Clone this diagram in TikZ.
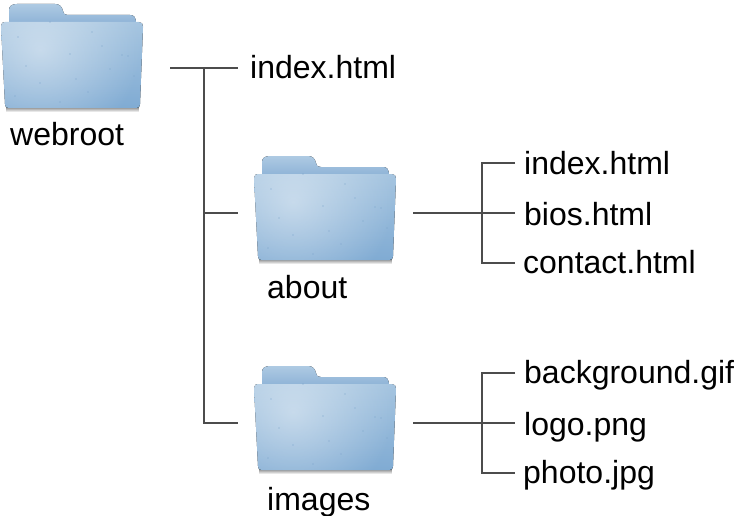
\documentclass[tikz,border=0pt]{standalone}
\usepackage{fontspec}
\setmainfont{Liberation Sans}
\usetikzlibrary{fadings}
\tikzfading[name=softglow,inner color=transparent!55,outer color=transparent!100]
\tikzset{
  x=1pt,y=-1pt,
  lbl/.style={inner sep=0pt,anchor=base west,font=\fontsize{32}{36}\selectfont,text=black},
  conn/.style={draw=black!70,line width=1.1pt},
}
\definecolor{tabc}{HTML}{AECAE3}
\definecolor{backc}{HTML}{8DB2D6}
\definecolor{ftop}{HTML}{A6C5E0}
\definecolor{fbot}{HTML}{80ABD3}
\definecolor{speck}{HTML}{7AA3CB}
\tikzset{
  pics/myfolder/.style={code={
    \fill[black!65,path fading=south] (6,105) -- (139,105) -- (139,112) -- (6,112) -- cycle;
    \fill[top color=tabc,bottom color=backc] (9,24) -- (9,10) .. controls (9,6) and (12,4) .. (17,4)
      -- (55,4) .. controls (60,4) and (62,7) .. (63,11) .. controls (63,14) and (65,15) .. (68,15)
      -- (130,15) .. controls (134,15) and (136,17) .. (136,24) -- cycle;
    \begin{scope}
    \clip (1,26) .. controls (1,23) and (3,22) .. (5,22) -- (139,22) .. controls (142,22) and (143,24) .. (143,27)
      -- (140,104) .. controls (140,107) and (139,108) .. (136,108) -- (9,108)
      .. controls (6,108) and (5,107) .. (5,104) -- cycle;
    \fill[top color=ftop,bottom color=fbot] (0,22) rectangle (144,108);
    \fill[white,path fading=softglow] (-60,-50) rectangle (140,150);
    \end{scope}
    \foreach \a/\b in {18/31,50/16,92/26,122/49,128/50,40/77,76/73,88/86,110/63,60/96,26/60,102/40,134/70,15/90,70/48}
      \fill[speck] (\a,\b+6) circle (.6);
  }}
}
\begin{document}
\begin{tikzpicture}
\useasboundingbox (0,0) rectangle (736,516);
\pic at (0,0) {myfolder};
\pic at (253,152) {myfolder};
\pic at (253,362) {myfolder};
\node[lbl] (webroot) at (10,146) {webroot};
\node[lbl] (about) at (267,298) {about};
\node[lbl] (images) at (267,510) {images};
\node[lbl] (rootindex) at (250,79) {index.html};
\node[lbl] (aboutindex) at (524,174) {index.html};
\node[lbl] (bios) at (524,225) {bios.html};
\node[lbl] (contact) at (523,273) {contact.html};
\node[lbl] (bg) at (524,383) {background.gif};
\node[lbl] (logo) at (524,435) {logo.png};
\node[lbl] (photo) at (523,483) {photo.jpg};
\coordinate (r0) at (170,68);
\coordinate (r1) at (204,68);
\coordinate (r2) at (204,213);
\coordinate (r3) at (204,423);
\coordinate (rootE) at (238,68);
\coordinate (aboutW) at (238,213);
\coordinate (imagesW) at (238,423);
\coordinate (a0) at (413,213);
\coordinate (a1) at (482,163);
\coordinate (a2) at (482,213);
\coordinate (a3) at (482,263);
\coordinate (a1e) at (515,163);
\coordinate (a2e) at (515,213);
\coordinate (a3e) at (515,263);
\coordinate (i0) at (413,423);
\coordinate (i1) at (482,373);
\coordinate (i2) at (482,423);
\coordinate (i3) at (482,473);
\coordinate (i1e) at (515,373);
\coordinate (i2e) at (515,423);
\coordinate (i3e) at (515,473);
\draw[conn] (r0) -- (rootE);
\draw[conn] (r1) -- (r3) -- (imagesW);
\draw[conn] (r2) -- (aboutW);
\draw[conn] (a0) -- (a2e);
\draw[conn] (a1e) -- (a1) -- (a3) -- (a3e);
\draw[conn] (i0) -- (i2e);
\draw[conn] (i1e) -- (i1) -- (i3) -- (i3e);
\end{tikzpicture}
\end{document}
